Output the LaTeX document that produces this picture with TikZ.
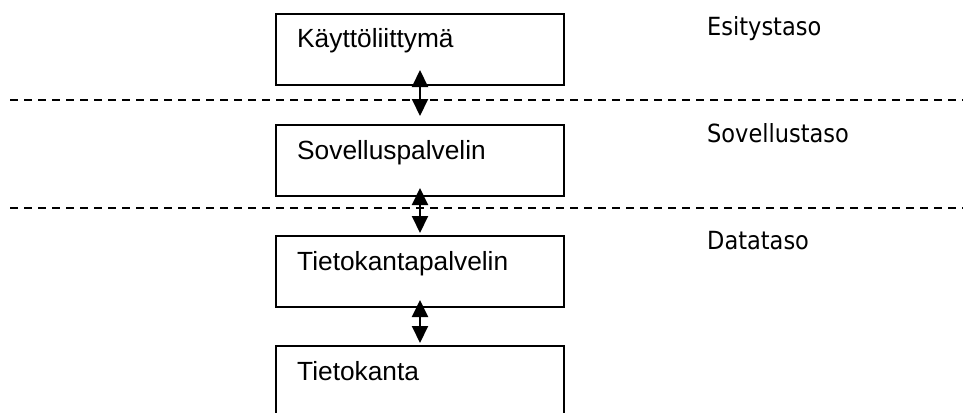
\documentclass[tikz,border=0pt]{standalone}
\usepackage{fontspec}
\setmainfont{Liberation Sans}
\newfontfamily\labfont{DejaVu Sans Condensed}
\usetikzlibrary{arrows.meta,calc}
\begin{document}
\begin{tikzpicture}[x=1pt,y=-1pt,
  box/.style={draw=black,line width=2pt,minimum width=288pt,minimum height=71pt,anchor=north west,inner sep=0pt},
  boxtext/.style={anchor=base west,inner sep=0pt,font=\fontsize{26.3}{30}\selectfont},
  layertext/.style={anchor=base west,inner sep=0pt,font=\labfont\fontsize{25}{30}\selectfont},
  sep/.style={draw=black,line width=2pt,dash pattern=on 8pt off 6pt},
  link/.style={draw=black,line width=2pt,{Triangle[length=17pt,width=16pt]}-{Triangle[length=17pt,width=16pt]}}]
\useasboundingbox (0,0) rectangle (963,412);
% boxes
\node[box] (b1) at (275,13) {};
\node[box] (b2) at (275,124) {};
\node[box] (b3) at (275,235) {};
\node[box,minimum height=80pt] (b4) at (275,345) {};
% box texts
\node[boxtext] (t1) at ($(b1.north west)+(22,35)$) {Käyttöliittymä};
\node[boxtext] (t2) at ($(b2.north west)+(22,35)$) {Sovelluspalvelin};
\node[boxtext] (t3) at ($(b3.north west)+(22,35)$) {Tietokantapalvelin};
\node[boxtext] (t4) at ($(b4.north west)+(22,35)$) {Tietokanta};
% layer separators
\coordinate (s1a) at (10,100);
\coordinate (s1b) at (968,100);
\coordinate (s2a) at (10,208);
\coordinate (s2b) at (968,208);
\draw[sep] (s1a) -- (s1b);
\draw[sep] (s2a) -- (s2b);
% layer labels
\node[layertext] (l1) at (707,36) {Esitystaso};
\node[layertext] (l2) at (707,142) {Sovellustaso};
\node[layertext] (l3) at (707,249) {Datataso};
% connectors
\draw[link] ($(b1.south)+(0,-16)$) -- ($(b2.north)+(0,-8)$);
\draw[link] ($(b2.south)+(0,-9)$) -- ($(b3.north)+(0,-2)$);
\draw[link] ($(b3.south)+(0,-8)$) -- ($(b4.north)+(0,-2)$);
\end{tikzpicture}
\end{document}
